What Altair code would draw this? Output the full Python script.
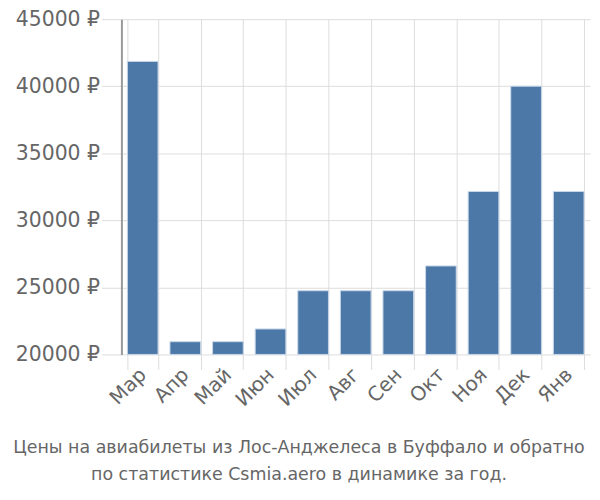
import altair as alt
import pandas as pd

months = ["Мар", "Апр", "Май", "Июн", "Июл", "Авг", "Сен", "Окт", "Ноя", "Дек", "Янв"]
prices = [41850, 20950, 20950, 21900, 24750, 24750, 24750, 26600, 32150, 40000, 32150]

df = pd.DataFrame({"month": months, "price": prices})

FONT = "DejaVu Sans"
GRAY = "#666666"

chart = alt.Chart(df).mark_bar(color="#4c78a8", stroke="#c8d6e8", strokeWidth=1).encode(
    x=alt.X("month:N", sort=months, title=None,
            scale=alt.Scale(paddingInner=0.28, paddingOuter=0.14),
            axis=alt.Axis(labelAngle=-45, labelFontSize=20, labelColor=GRAY, labelFont=FONT,
                          grid=True, gridColor="#dddddd", tickBand="extent",
                          tickSize=15, tickColor="#dddddd", domain=False,
                          labelPadding=2, labelAlign="right", labelBaseline="middle")),
    y=alt.Y("price:Q", title=None,
            scale=alt.Scale(domain=[20000, 45000], zero=False, nice=False),
            axis=alt.Axis(values=[20000, 25000, 30000, 35000, 40000, 45000],
                          labelExpr="datum.value + ' ₽'",
                          labelFontSize=20.5, labelColor=GRAY, labelFont=FONT,
                          gridColor="#dddddd", tickSize=20, tickColor="#dddddd",
                          domainColor="#999999", domainWidth=2, labelPadding=2)),
    y2=alt.Y2(datum=20000),
).properties(
    width=471,
    height=337,
    padding={"left": 114, "top": 10, "right": 2, "bottom": 128},
    autosize=alt.AutoSizeParams(type="none"),
    title=alt.TitleParams(
        text=["Цены на авиабилеты из Лос-Анджелеса в Буффало и обратно",
              "по статистике Csmia.aero в динамике за год."],
        orient="bottom", anchor="middle", dx=-57, offset=29,
        fontSize=17.5, font=FONT, fontWeight="normal", color=GRAY, lineHeight=27,
    ),
).configure_view(stroke=None)

chart.save("out.html", embed_options={"renderer": "svg", "actions": False})
